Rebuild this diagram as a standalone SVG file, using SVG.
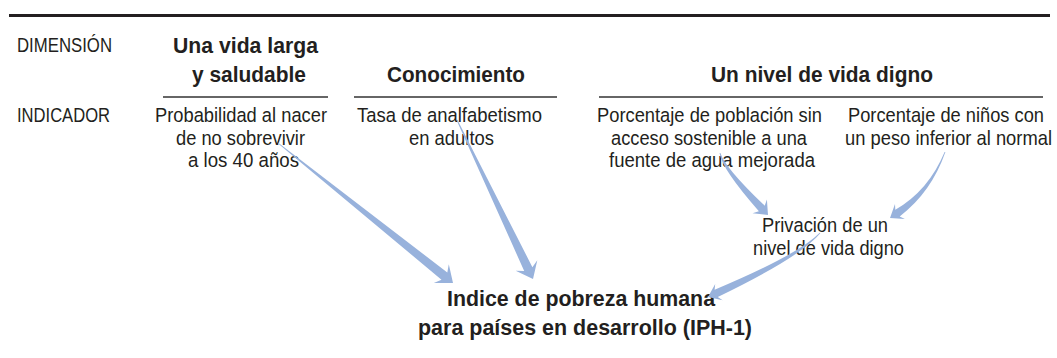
<svg xmlns="http://www.w3.org/2000/svg" width="1057" height="358" viewBox="0 0 1057 358">
<style>
.t{font-family:"Liberation Sans",Arial,sans-serif;font-size:20.5px;fill:#231f20}
.b{font-family:"Liberation Sans",Arial,sans-serif;font-size:21.5px;font-weight:bold;fill:#231f20}
.e{text-anchor:end}
.rule{stroke:#333;stroke-width:1.4;fill:none}
.arr{fill:#98b2dc;stroke:none}
</style>
<rect width="1057" height="358" fill="#fff"/>
<line x1="9" y1="15.5" x2="1050" y2="15.5" stroke="#231f20" stroke-width="3.2"/>
<g id="labels">
<text class="t" x="17" y="52" textLength="95" lengthAdjust="spacingAndGlyphs">DIMENSIÓN</text>
<text class="t" x="17" y="122" textLength="93" lengthAdjust="spacingAndGlyphs">INDICADOR</text>
</g>
<g id="dim-vida">
<text class="b" x="173" y="53" textLength="145" lengthAdjust="spacingAndGlyphs">Una vida larga</text>
<text class="b" x="192" y="82" textLength="114" lengthAdjust="spacingAndGlyphs">y saludable</text>
<line class="rule" x1="163" y1="97" x2="328" y2="97"/>
</g>
<g id="dim-conocimiento">
<text class="b" x="387" y="82" textLength="138" lengthAdjust="spacingAndGlyphs">Conocimiento</text>
<line class="rule" x1="354" y1="97" x2="557" y2="97"/>
</g>
<g id="dim-nivel">
<text class="b" x="711" y="82" textLength="222" lengthAdjust="spacingAndGlyphs">Un nivel de vida digno</text>
<line class="rule" x1="599" y1="97" x2="1043" y2="97"/>
</g>
<g id="ind-probabilidad">
<text class="t" x="155" y="122" textLength="172" lengthAdjust="spacingAndGlyphs">Probabilidad al nacer</text>
<text class="t" x="176" y="144.5" textLength="129" lengthAdjust="spacingAndGlyphs">de no sobrevivir</text>
<text class="t" x="188" y="167" textLength="111" lengthAdjust="spacingAndGlyphs">a los 40 años</text>
</g>
<g id="ind-analfabetismo">
<text class="t" x="357" y="122" textLength="185" lengthAdjust="spacingAndGlyphs">Tasa de analfabetismo</text>
<text class="t" x="409" y="144.5" textLength="85" lengthAdjust="spacingAndGlyphs">en adultos</text>
</g>
<g id="ind-agua">
<text class="t" x="597" y="122" textLength="225" lengthAdjust="spacingAndGlyphs">Porcentaje de población sin</text>
<text class="t" x="611" y="144.5" textLength="196" lengthAdjust="spacingAndGlyphs">acceso sostenible a una</text>
<text class="t" x="609" y="167" textLength="206" lengthAdjust="spacingAndGlyphs">fuente de agua mejorada</text>
</g>
<g id="ind-peso">
<text class="t e" transform="translate(1044,122) scale(0.9,1)" textLength="217.8" lengthAdjust="spacingAndGlyphs">Porcentaje de niños con</text>
<text class="t e" transform="translate(1052,144.5) scale(0.9,1)" textLength="230" lengthAdjust="spacingAndGlyphs">un peso inferior al normal</text>
</g>
<g id="privacion">
<text class="t" x="762" y="232" textLength="126" lengthAdjust="spacingAndGlyphs">Privación de un</text>
<text class="t" x="753" y="255" textLength="151" lengthAdjust="spacingAndGlyphs">nivel de vida digno</text>
</g>
<g id="iph1">
<text class="b" x="447" y="306" textLength="268" lengthAdjust="spacingAndGlyphs">Indice de pobreza humana</text>
<text class="b" x="418" y="335" textLength="334" lengthAdjust="spacingAndGlyphs">para países en desarrollo (IPH-1)</text>
</g>
<g id="connectors">
<path class="arr" d="M278.25,142.7 L447.3,272.5 L448.8,264.2 L453,283 L433.8,283 L441.5,279.7 L277.75,143.3 Z"/>
<path class="arr" d="M457.4,119.8 L532.4,267.2 L537.3,260.3 L533,279 L515.7,270.7 L524.2,271 L456.6,120.2 Z"/>
<path class="arr" d="M720.4,152.9 Q724.5,167.2 764.7,205.7 L766.9,199.5 L768,215 L752.5,213.3 L758.9,211.3 Q721.5,168.8 719.6,153.1 Z"/>
<path class="arr" d="M945.4,152.1 Q931.2,192.6 899.7,216.4 L904.9,218.9 L890,218 L895,203.9 L895.3,209.7 Q928.6,190.5 944.6,151.9 Z"/>
<path class="arr" d="M820.3,233.3 Q800.2,257.2 717.8,297 L722.6,300.3 L708,297 L715.2,283.9 L714.6,289.7 Q798.4,254.6 819.7,232.7 Z"/>
</g>
</svg>
